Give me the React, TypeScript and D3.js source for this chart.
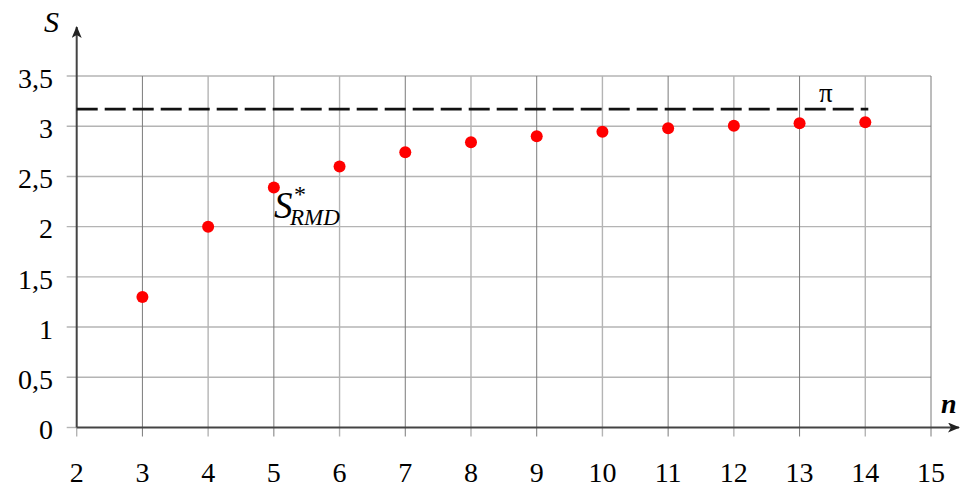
import * as d3 from "d3";
import { useEffect, useRef } from "react";

// values
const nValues = [3, 4, 5, 6, 7, 8, 9, 10, 11, 12, 13, 14];
const sValues = [1.3, 2.0, 2.39, 2.6, 2.74, 2.84, 2.9, 2.945, 2.98, 3.005, 3.03, 3.04];
const xTicks = [2, 3, 4, 5, 6, 7, 8, 9, 10, 11, 12, 13, 14, 15];
const yTicks = [0, 0.5, 1, 1.5, 2, 2.5, 3, 3.5];
const piLevel = 3.17; // dashed line sits a little above 3.14 in the picture
const piEnd = 14;

const FONT = "Liberation Serif, Times New Roman, serif";

export default function App() {
    const ref = useRef<SVGSVGElement>(null);
    const width = 960,
        height = 488;

    useEffect(() => {
        const svg = d3.select(ref.current);
        svg.selectAll("*").remove();

        const x = d3.scaleLinear().domain([2, 15]).range([76.7, 931]);
        const y = d3.scaleLinear().domain([0, 3.5]).range([427.5, 76]);

        const defs = svg.append("defs");
        defs.append("marker")
            .attr("id", "arrow")
            .attr("viewBox", "0 0 12 10")
            .attr("refX", 11)
            .attr("refY", 5)
            .attr("markerWidth", 12)
            .attr("markerHeight", 10)
            .attr("markerUnits", "userSpaceOnUse")
            .attr("orient", "auto")
            .append("path")
            .attr("d", "M0,0 L12,5 L0,10 L3,5 Z")
            .attr("fill", "#222");

        // horizontal grid lines (extend a bit left of the axis as ticks)
        svg.append("g")
            .selectAll("line")
            .data(yTicks.filter(d => d > 0))
            .join("line")
            .attr("x1", x(2) - 10)
            .attr("x2", x(15))
            .attr("y1", d => y(d))
            .attr("y2", d => y(d))
            .attr("stroke", "#b4b4b4")
            .attr("stroke-width", 1.4);

        // vertical grid lines (extend below the axis as ticks)
        svg.append("g")
            .selectAll("line")
            .data(xTicks.filter(d => d > 2))
            .join("line")
            .attr("x1", d => x(d))
            .attr("x2", d => x(d))
            .attr("y1", y(3.5))
            .attr("y2", y(0) + 9)
            .attr("stroke", (d, i) => i % 2 === 0 ? "#7a7a7a" : "#b4b4b4")
            .attr("stroke-width", (d, i) => i % 2 === 0 ? 1 : 1.4);

        // tick stubs at origin
        svg.append("line")
            .attr("x1", x(2) - 10).attr("x2", x(2))
            .attr("y1", y(0)).attr("y2", y(0))
            .attr("stroke", "#b4b4b4").attr("stroke-width", 1.4);
        svg.append("line")
            .attr("x1", x(2)).attr("x2", x(2))
            .attr("y1", y(0)).attr("y2", y(0) + 9)
            .attr("stroke", "#b4b4b4").attr("stroke-width", 1.4);

        // axes with arrows
        svg.append("line")
            .attr("x1", x(2)).attr("x2", x(2))
            .attr("y1", y(0)).attr("y2", 27)
            .attr("stroke", "#444").attr("stroke-width", 2)
            .attr("marker-end", "url(#arrow)");
        svg.append("line")
            .attr("x1", x(2)).attr("x2", 959)
            .attr("y1", y(0)).attr("y2", y(0))
            .attr("stroke", "#444").attr("stroke-width", 2)
            .attr("marker-end", "url(#arrow)");

        // pi dashed line
        svg.append("line")
            .attr("x1", x(2)).attr("x2", x(piEnd) + 3)
            .attr("y1", y(piLevel)).attr("y2", y(piLevel))
            .attr("stroke", "#111")
            .attr("stroke-width", 2.6)
            .attr("stroke-dasharray", "21 7");

        svg.append("text")
            .attr("x", x(13.4))
            .attr("y", y(piLevel) - 7)
            .attr("text-anchor", "middle")
            .attr("font-family", FONT)
            .attr("font-size", 27)
            .text("π");

        // tick labels
        svg.append("g")
            .selectAll("text")
            .data(yTicks)
            .join("text")
            .attr("x", 53)
            .attr("y", d => y(d) + 2)
            .attr("dy", "0.35em")
            .attr("text-anchor", "end")
            .attr("font-family", FONT)
            .attr("font-size", 28)
            .text(d => String(d).replace(".", ","));

        svg.append("g")
            .selectAll("text")
            .data(xTicks)
            .join("text")
            .attr("x", d => x(d))
            .attr("y", 482)
            .attr("text-anchor", "middle")
            .attr("font-family", FONT)
            .attr("font-size", 28)
            .text(d => d);

        // axis titles
        svg.append("text")
            .attr("x", 44)
            .attr("y", 32)
            .attr("font-family", FONT)
            .attr("font-style", "italic")
            .attr("font-size", 30)
            .text("S");

        svg.append("text")
            .attr("x", 941)
            .attr("y", 413)
            .attr("font-family", FONT)
            .attr("font-style", "italic")
            .attr("font-weight", "bold")
            .attr("font-size", 28)
            .text("n");

        // data points
        svg.append("g")
            .selectAll("circle")
            .data(nValues.map((n, i) => [n, sValues[i]]))
            .join("circle")
            .attr("cx", d => x(d[0]))
            .attr("cy", d => y(d[1]))
            .attr("r", 6)
            .attr("fill", "#ff0000");

        // S*_RMD label
        const lbl = svg.append("text")
            .attr("x", 274)
            .attr("y", 218)
            .attr("font-family", FONT)
            .attr("font-style", "italic")
            .attr("font-size", 37);
        lbl.append("tspan").text("S");
        lbl.append("tspan")
            .attr("x", 294)
            .attr("y", 202)
            .attr("font-size", 24)
            .attr("font-style", "normal")
            .text("*");
        lbl.append("tspan")
            .attr("x", 290)
            .attr("y", 225)
            .attr("font-size", 23)
            .text("RMD");
    }, []);

    return (
        <div>
            <svg
                ref={ref}
                width={width}
                height={height}
                style={{ position: "absolute", left: 0, top: 0, background: "#fff" }}
            >
            </svg>
        </div>
    );
}
